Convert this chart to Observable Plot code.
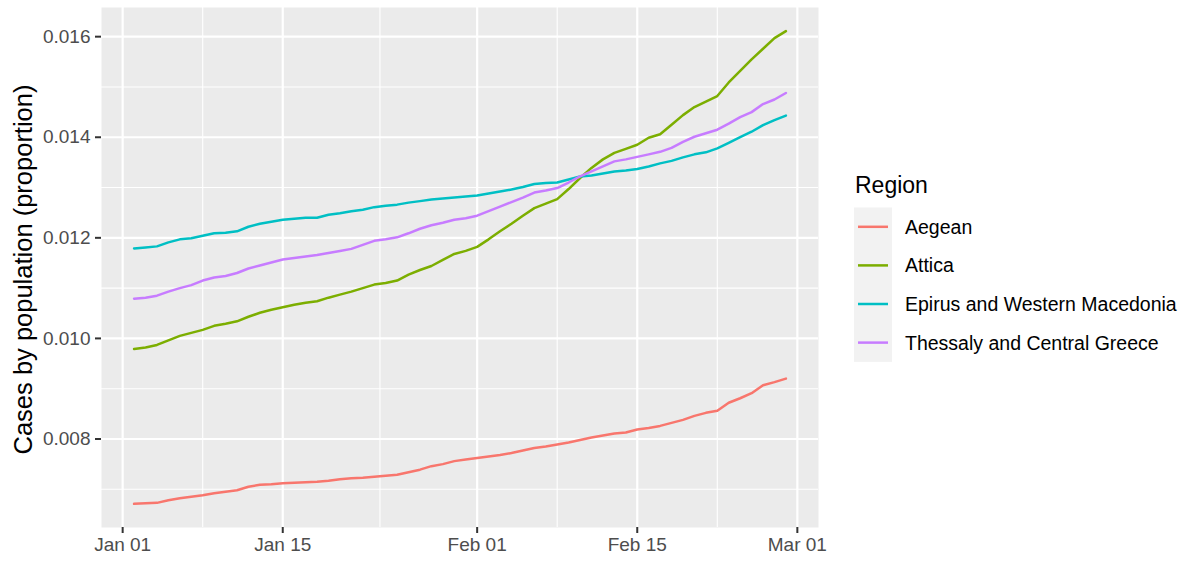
<!DOCTYPE html>
<html>
<head>
<meta charset="utf-8">
<script src="https://cdn.jsdelivr.net/npm/d3@7"></script>
<script src="https://cdn.jsdelivr.net/npm/@observablehq/plot@0.6"></script>
<style>
  html, body { margin: 0; padding: 0; background: #fff; }
  #chart { width: 1186px; height: 561px; }
</style>
</head>
<body>
<div id="chart"></div>
<script>
// ---- Data ----
const regions = ["Aegean", "Attica", "Epirus and Western Macedonia", "Thessaly and Central Greece"];
const colors = ["#F8766D", "#7CAE00", "#00BFC4", "#C77CFF"];
const startDate = "2021-01-02";
const endDateExclusive = "2021-03-01";

const aegean = [
  0.00671, 0.00672, 0.00673, 0.00678, 0.00682, 0.00685, 0.00688, 0.00692, 0.00695, 0.00698,
  0.00705, 0.00709, 0.00710, 0.00712, 0.00713, 0.00714, 0.00715, 0.00717, 0.00720, 0.00722,
  0.00723, 0.00725, 0.00727, 0.00729, 0.00734, 0.00739, 0.00746, 0.00750, 0.00756, 0.00759,
  0.00762, 0.00765, 0.00768, 0.00772, 0.00777, 0.00782, 0.00785, 0.00789, 0.00793, 0.00798,
  0.00803, 0.00807, 0.00811, 0.00813, 0.00819, 0.00822, 0.00826, 0.00832, 0.00838, 0.00846,
  0.00852, 0.00856, 0.00872, 0.00881, 0.00891, 0.00907, 0.00913, 0.00920
];
const attica = [
  0.00979, 0.00982, 0.00987, 0.00996, 0.01005, 0.01011, 0.01017, 0.01025, 0.01029, 0.01034,
  0.01043, 0.01051, 0.01057, 0.01062, 0.01067, 0.01071, 0.01074, 0.01081, 0.01087, 0.01093,
  0.01100, 0.01107, 0.01110, 0.01115, 0.01127, 0.01136, 0.01144, 0.01156, 0.01168, 0.01174,
  0.01182, 0.01197, 0.01213, 0.01228, 0.01244, 0.01259, 0.01268, 0.01277, 0.01297, 0.01319,
  0.01339, 0.01356, 0.01369, 0.01377, 0.01385, 0.01399, 0.01406, 0.01425, 0.01444, 0.01460,
  0.01471, 0.01482, 0.01509, 0.01532, 0.01555, 0.01576, 0.01597, 0.01611
];
const epirus = [
  0.01179, 0.01181, 0.01183, 0.01191, 0.01197, 0.01199, 0.01204, 0.01209, 0.01210, 0.01213,
  0.01222, 0.01228, 0.01232, 0.01236, 0.01238, 0.01240, 0.01240, 0.01246, 0.01249, 0.01253,
  0.01256, 0.01261, 0.01264, 0.01266, 0.01270, 0.01273, 0.01276, 0.01278, 0.01280, 0.01282,
  0.01284, 0.01288, 0.01292, 0.01296, 0.01301, 0.01307, 0.01309, 0.01310, 0.01316, 0.01322,
  0.01324, 0.01328, 0.01332, 0.01334, 0.01337, 0.01342, 0.01348, 0.01353, 0.01360, 0.01366,
  0.01370, 0.01378, 0.01389, 0.01400, 0.01411, 0.01424, 0.01434, 0.01443
];
const thessaly = [
  0.01079, 0.01081, 0.01085, 0.01093, 0.01100, 0.01106, 0.01115, 0.01121, 0.01124, 0.01130,
  0.01139, 0.01145, 0.01151, 0.01157, 0.01160, 0.01163, 0.01166, 0.01170, 0.01174, 0.01178,
  0.01186, 0.01194, 0.01197, 0.01201, 0.01209, 0.01218, 0.01225, 0.01230, 0.01236, 0.01239,
  0.01244, 0.01253, 0.01262, 0.01271, 0.01280, 0.01290, 0.01294, 0.01299, 0.01310, 0.01322,
  0.01332, 0.01342, 0.01352, 0.01356, 0.01361, 0.01366, 0.01371, 0.01379, 0.01391, 0.01401,
  0.01408, 0.01415, 0.01427, 0.01440, 0.01450, 0.01466, 0.01475, 0.01488
];

const xTickLabels = ["2021-01-01", "2021-01-15", "2021-02-01", "2021-02-15", "2021-03-01"];
const yTicks = [0.008, 0.010, 0.012, 0.014, 0.016];
const yMinorTicks = [0.007, 0.009, 0.011, 0.013, 0.015];
const yTitle = "Cases by population (proportion)";
const legendTitle = "Region";

// ---- Build table ----
const dates = d3.utcDay.range(new Date(startDate), new Date(endDateExclusive));
const seriesValues = [aegean, attica, epirus, thessaly];
const data = [];
regions.forEach((r, i) => {
  seriesValues[i].forEach((v, j) => data.push({date: dates[j], value: v, region: r}));
});

// ggplot-style 5% expansion
const xExt = d3.extent(dates, d => +d);
const xPad = (xExt[1] - xExt[0]) * 0.05;
const xDomain = [new Date(xExt[0] - xPad), new Date(xExt[1] + xPad)];
const yExt = d3.extent(data, d => d.value);
const yPad = (yExt[1] - yExt[0]) * 0.05;
const yDomain = [yExt[0] - yPad, yExt[1] + yPad];

const xTicks = xTickLabels.map(s => new Date(s));
const xMinor = d3.pairs(xTicks).map(([a, b]) => new Date((+a + +b) / 2));

const FONT = "'Liberation Sans', Arial, Helvetica, sans-serif";

const plot = Plot.plot({
  width: 1186,
  height: 561,
  marginLeft: 101,
  marginRight: 368,
  marginTop: 7,
  marginBottom: 34,
  style: {fontFamily: FONT, background: "#ffffff"},
  x: {type: "utc", domain: xDomain},
  y: {domain: yDomain},
  color: {domain: regions, range: colors},
  marks: [
    Plot.frame({fill: "#EBEBEB", stroke: null}),
    Plot.ruleY(yMinorTicks, {stroke: "#ffffff", strokeWidth: 1.1}),
    Plot.ruleX(xMinor, {stroke: "#ffffff", strokeWidth: 1.1}),
    Plot.ruleY(yTicks, {stroke: "#ffffff", strokeWidth: 2.2}),
    Plot.ruleX(xTicks, {stroke: "#ffffff", strokeWidth: 2.2}),
    Plot.line(data, {x: "date", y: "value", z: "region", stroke: "region", strokeWidth: 2.5, curve: "linear"}),
    Plot.axisY({ticks: yTicks, tickFormat: d3.format(".3f"), tickSize: 6, tickPadding: 5,
      fontSize: 19, fill: "#4D4D4D", stroke: "#333333", strokeWidth: 2, label: null}),
    Plot.axisX({ticks: xTicks, tickFormat: d3.utcFormat("%b %d"), tickSize: 6, tickPadding: 4,
      fontSize: 19, fill: "#4D4D4D", stroke: "#333333", strokeWidth: 2, label: null}),
    Plot.text([yTitle], {frameAnchor: "left", dx: -78, dy: 2, rotate: -90, text: d => d,
      fontSize: 25.5, fill: "#000000", textAnchor: "middle", lineAnchor: "middle"})
  ]
});

// ---- Legend (right side, ggplot style) ----
const colorScale = plot.scale("color");
const svg = d3.select(plot);
const lg = svg.append("g").attr("font-family", FONT).attr("text-anchor", "start");
const legX = 854, keyW = 38, keyTop = 207.5, keyStep = 38.6;
lg.append("text").attr("x", 855).attr("y", 193).attr("text-anchor", "start")
  .attr("font-size", 23).attr("fill", "#000").text(legendTitle);
lg.append("rect").attr("x", legX).attr("y", keyTop)
  .attr("width", keyW).attr("height", keyStep * regions.length)
  .attr("fill", "#F2F2F2");
regions.forEach((r, i) => {
  const cy = keyTop + keyStep * (i + 0.5);
  lg.append("line").attr("x1", legX + 4).attr("x2", legX + keyW - 4)
    .attr("y1", cy).attr("y2", cy)
    .attr("stroke", colorScale.apply(r)).attr("stroke-width", 2.5);
  lg.append("text").attr("x", 905).attr("y", cy).attr("dy", "0.36em").attr("text-anchor", "start")
    .attr("font-size", 19.5).attr("fill", "#000").text(r);
});

document.getElementById("chart").appendChild(plot);
</script>
</body>
</html>
